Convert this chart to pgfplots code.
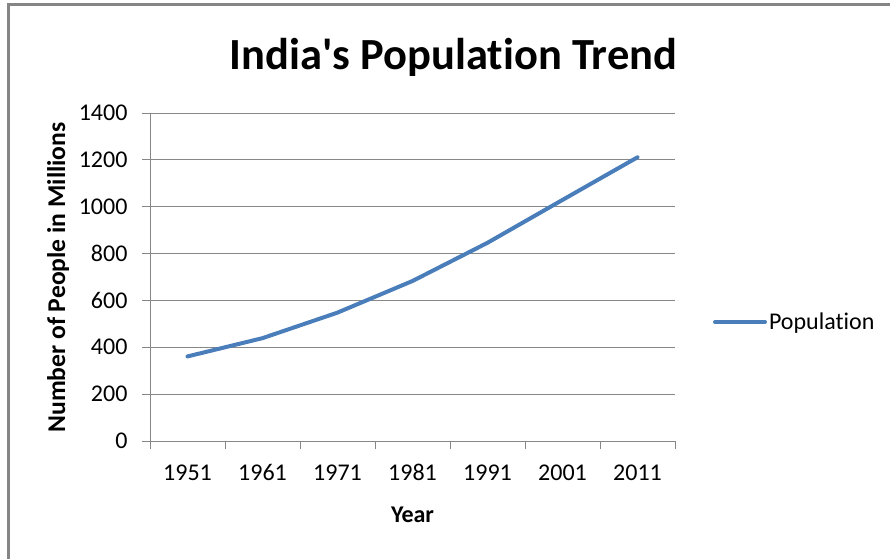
\documentclass[border=0pt]{standalone}
\usepackage{fontspec}
\setmainfont{Carlito}[Ligatures={NoCommon}]
\usepackage{pgfplots}
\pgfplotsset{compat=1.18}
\definecolor{excelblue}{HTML}{4A7EBB}
\definecolor{gridgray}{HTML}{878787}
\definecolor{framegray}{HTML}{858585}
\begin{document}
\begin{tikzpicture}[x=1pt,y=1pt]
\path[use as bounding box] (0,0) rectangle (890,558);
\begin{scope}
\clip (0,0) rectangle (890,558);
\draw[framegray, line width=2.5pt] (8.5,-10) -- (8.5,553.5) -- (900,553.5);
\end{scope}
\begin{axis}[
  at={(150pt,117pt)}, anchor=south west,
  scale only axis, width=525pt, height=328pt,
  xmin=-0.5, xmax=6.5, ymin=0, ymax=1400,
  xtick={0,...,6},
  xticklabels={1951,1961,1971,1981,1991,2001,2011},
  minor xtick={-0.5,0.5,...,6.5},
  ytick={0,200,...,1400},
  axis x line*=bottom, axis y line*=left,
  axis line style={gridgray, line width=1pt, -},
  tick align=outside,
  major tick length=8pt, minor tick length=8pt,
  major x tick style={draw=none},
  minor x tick style={gridgray, line width=1pt},
  major y tick style={gridgray, line width=1pt},
  ymajorgrids, grid style={gridgray, line width=1pt},
  tick label style={font=\fontsize{24}{28}\selectfont, text=black},
  yticklabel style={xshift=-11pt},
  xticklabel style={yshift=-12pt},
  /pgf/number format/assume math mode=true,
  /pgf/number format/1000 sep={},
  legend style={at={(rel axis cs:1.072,0.363)}, anchor=west, draw=none, fill=none,
    inner sep=0pt, font=\fontsize{24}{28}\selectfont},
  legend image code/.code={\draw[excelblue, line width=4pt] (0pt,0pt) -- (50pt,0pt);},
  clip=false,
]
\addplot[excelblue, line width=4pt, line join=round, line cap=round] coordinates {
  (0,361) (1,439) (2,548) (3,683) (4,846) (5,1029) (6,1211)
};
\addlegendentry{Population}
\end{axis}
\node[anchor=base, font=\bfseries\fontsize{44.5}{50}\selectfont] at (453.5,488) {India\textquotesingle s Population Trend};
\node[anchor=base, rotate=90, font=\bfseries\fontsize{25.6}{30}\selectfont] at (65,280.5) {Number of People in Millions};
\node[anchor=base, font=\bfseries\fontsize{24}{28}\selectfont] at (412.5,36) {Year};
\end{tikzpicture}
\end{document}
